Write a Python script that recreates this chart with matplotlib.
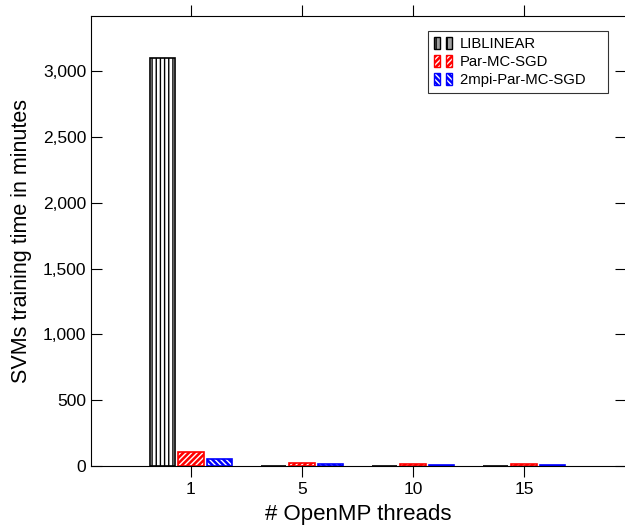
import numpy as np
import matplotlib.pyplot as plt
from matplotlib.patches import Patch
from matplotlib.legend_handler import HandlerTuple
from matplotlib.ticker import FuncFormatter

plt.rcParams['font.family'] = ['Liberation Sans', 'DejaVu Sans']
plt.rcParams['hatch.linewidth'] = 1.0

threads = ['1', '5', '10', '15']
liblinear = [3100, 3, 3, 3]
par_mc_sgd = [104, 23, 15, 15]
mpi_par_mc_sgd = [51, 13, 10, 10]

series = ['LIBLINEAR', 'Par-MC-SGD', '2mpi-Par-MC-SGD    ']
colors = ['black', 'red', 'blue']
hatches = ['||||', '//////', '\\\\\\\\\\\\']


class Pair(tuple):
    pass


fig = plt.figure(figsize=(6.25, 5.28), dpi=100)
ax = fig.add_axes([0.1456, 0.1174, 0.8560, 0.8523])

x = np.arange(len(threads))
w = 0.23
off = 0.257
handles = []
for i, vals in enumerate([liblinear, par_mc_sgd, mpi_par_mc_sgd]):
    pos = x + (i - 1) * off
    if i == 0:
        # white bar, black vertical lines
        ax.bar(pos, vals, w, color='white', edgecolor='black', hatch=hatches[i], linewidth=1.2)
        mk = lambda: Patch(facecolor='#a0a0a0', edgecolor='black', hatch='|||', linewidth=1.0)
    else:
        # coloured fill with white stripes
        ax.bar(pos, vals, w, color=colors[i], edgecolor='white', hatch=hatches[i], linewidth=0)
        ax.bar(pos, vals, w, fill=False, edgecolor=colors[i], linewidth=1.2)
        c, h = colors[i], hatches[i]
        mk = lambda c=c, h=h: (Patch(facecolor=c, edgecolor='white', hatch=h, linewidth=0),
                               Patch(fill=False, edgecolor=c, linewidth=1.0))
    handles.append(Pair((mk(), mk())))

ax.set_xlim(-0.9, 3.92)
ax.set_ylim(0, 3420)
ax.set_xticks(x)
ax.set_xticklabels(threads)
ax.set_yticks(np.arange(0, 3001, 500))
ax.yaxis.set_major_formatter(FuncFormatter(lambda v, p: '{:,.0f}'.format(v)))

ax.tick_params(axis='x', direction='out', length=8, top=True, labelsize=12.5, width=0.8)
ax.tick_params(axis='y', direction='in', length=8, right=True, labelsize=12.5, width=0.8)
ax.spines['right'].set_visible(False)

ax.set_xlabel('# OpenMP threads', fontsize=16, labelpad=5)
ax.set_ylabel('SVMs training time in minutes', fontsize=15.5, labelpad=8)

leg = ax.legend(handles, series, loc='upper left', bbox_to_anchor=(0.630, 0.967),
                handler_map={Pair: HandlerTuple(ndivide=None, pad=0.35),
                             tuple: HandlerTuple(ndivide=1)},
                fontsize=10.7, frameon=True, fancybox=False, handlelength=1.2,
                handleheight=0.9, handletextpad=0.55, labelspacing=0.25,
                borderpad=0.4, borderaxespad=0)
leg.get_frame().set_edgecolor('black')
leg.get_frame().set_linewidth(0.8)

fig.savefig('out.png', dpi=100)
